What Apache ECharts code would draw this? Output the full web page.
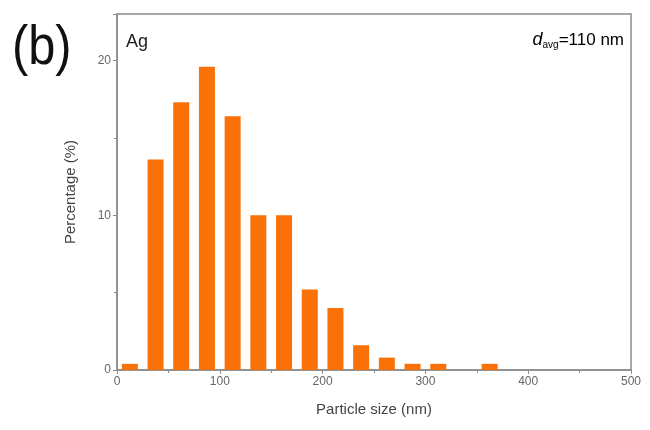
<!DOCTYPE html>
<html><head><meta charset="utf-8">
<script src="https://cdn.jsdelivr.net/npm/echarts@6/dist/echarts.min.js"></script>
<style>html,body{margin:0;padding:0;background:#fff}#c{width:650px;height:430px}</style>
</head><body><div id="c"></div>
<script>
const binCenters = [12.5, 37.5, 62.5, 87.5, 112.5, 137.5, 162.5, 187.5, 212.5, 237.5, 262.5, 287.5, 312.5, 337.5, 362.5];
const percentages = [0.4, 13.6, 17.3, 19.6, 16.4, 10.0, 10.0, 5.2, 4.0, 1.6, 0.8, 0.4, 0.4, 0, 0.4];
const xTicks = [0, 100, 200, 300, 400, 500];
const yTicks = [0, 10, 20];

const chart = echarts.init(document.getElementById('c'));
const gray = '#8c8c8c';
chart.setOption({
  animation: false,
  grid: {left: 117, right: 19, top: 14, bottom: 60, show: true, borderColor: gray, borderWidth: 1.5},
  xAxis: {
    type: 'value', min: 0, max: 500, interval: 100,
    name: 'Particle size (nm)', nameLocation: 'middle', nameGap: 32,
    nameTextStyle: {fontFamily: 'Liberation Sans', fontSize: 15, color: '#444'},
    axisLine: {lineStyle: {color: gray, width: 1.5}},
    axisTick: {show: true, length: 4, lineStyle: {color: gray}},
    minorTick: {show: true, splitNumber: 2, length: 3, lineStyle: {color: gray}},
    axisLabel: {fontFamily: 'Liberation Sans', fontSize: 12, color: '#666', margin: 6},
    splitLine: {show: false}
  },
  yAxis: {
    type: 'value', min: 0, max: 23, interval: 10,
    name: 'Percentage (%)', nameLocation: 'middle', nameGap: 39,
    nameTextStyle: {fontFamily: 'Liberation Sans', fontSize: 15, color: '#444'},
    axisLine: {show: true, lineStyle: {color: gray, width: 1.5}},
    axisTick: {show: true, length: 4, lineStyle: {color: gray}},
    minorTick: {show: true, splitNumber: 2, length: 3, lineStyle: {color: gray}},
    axisLabel: {fontFamily: 'Liberation Sans', fontSize: 12, color: '#666', margin: 6,
      formatter: v => yTicks.includes(v) ? String(v) : ''},
    splitLine: {show: false}
  },
  series: [{
    type: 'bar',
    data: binCenters.map((x, i) => [x, percentages[i]]),
    barWidth: 16,
    itemStyle: {color: '#fa7207'}
  }],
  graphic: [
    {type: 'text', x: 12, y: 21, scaleX: 0.87, style: {text: '(b)', fontFamily: 'Liberation Sans', fontSize: 56, fill: '#111'}},
    {type: 'text', left: 126, top: 33, style: {text: 'Ag', fontFamily: 'Liberation Sans', fontSize: 18, fill: '#222'}},
    {type: 'text', right: 26, top: 31, style: {
      text: '{i|d}{s|avg}{n|=110 nm}',
      rich: {
        i: {fontFamily: 'Liberation Sans', fontStyle: 'italic', fontSize: 18, color: '#222'},
        s: {fontFamily: 'Liberation Sans', fontSize: 10, color: '#222', padding: [10, 0, 0, 0]},
        n: {fontFamily: 'Liberation Sans', fontSize: 17, color: '#222'}
      }
    }}
  ]
});
</script></body></html>
